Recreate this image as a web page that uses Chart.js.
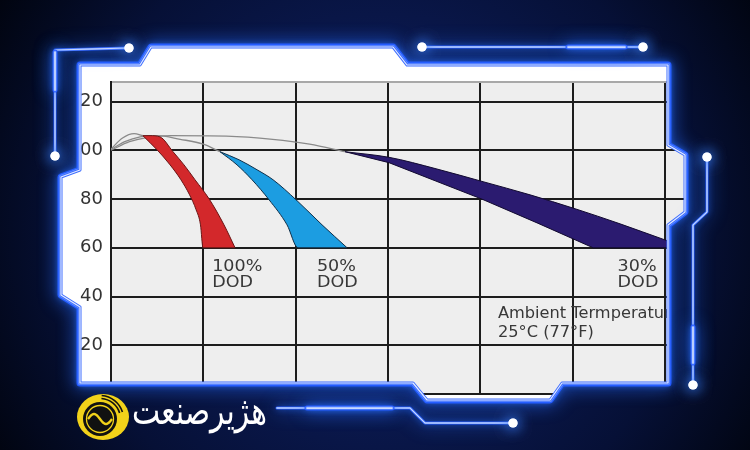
<!DOCTYPE html>
<html><head><meta charset="utf-8">
<script src="https://cdn.jsdelivr.net/npm/chart.js@4.4.1/dist/chart.umd.min.js"></script>
<style>html,body{margin:0;padding:0;background:#02050f;}canvas{display:block}</style>
</head><body>
<canvas id="c" width="750" height="450"></canvas>
<script>
// ---- data (cycles, capacity %) ----
const yTickValues = [0, 20, 40, 60, 80, 100, 120];
const cycleTicks = [0, 200, 400, 600, 800, 1000, 1200];
const dod100Lower = [[69,106],[99.6,100.2],[128,94],[151.4,87.9],[170.2,81.7],[184.3,75.6],[193.8,69.4],[199.3,60],[268.6,60]];
const dod100Upper = [[69,106],[84.5,106],[106,105.5],[134.3,99.4],[158.1,94],[181.9,87.9],[212.3,80.1],[244.7,69.4],[268.6,60]];
const dod50Lower  = [[236,99.4],[272.9,94],[305.4,87.9],[342.2,79.7],[381.2,69.4],[405,60],[511.2,60]];
const dod50Upper  = [[236,99.4],[277.2,96.1],[316.2,92],[350.9,87.9],[400.7,79.7],[457,69.4],[511.2,60]];
const dod30Lower  = [[506.8,99.4],[602.1,94.9],[701.7,87.5],[801.4,80.1],[922.7,70.2],[1044,60],[1243,60]];
const dod30Upper  = [[506.8,99.4],[602.1,97.1],[703.9,92.4],[805.7,87.1],[907.5,81.7],[1005,76],[1102.5,69.8],[1199.9,63.2],[1243,60.4]];
const greyTo100 = [[0,100.5],[25,105],[50,106.8],[69,106]];
const greyTo50  = [[0,100.3],[30,103.5],[63,105.5],[100,106],[150,104.5],[200,102.5],[236,99.4]];
const greyTo30  = [[0,100],[40,103.5],[80,105.3],[130,106],[250,105.8],[350,104.5],[430,102.5],[506.8,99.4]];
const bandNames = ['100%', '50%', '30%'];
const bandSuffix = 'DOD';
const noteLines = ['Ambient Termperature', '25°C (77°F)'];
const brandText = 'هژیرصنعت';

const pts = a => a.map(p => ({x: p[0], y: p[1]}));

// decoration geometry
const frame = [[80,65],[140,65],[151,47],[393,47],[407,65],[668,65],[668,145],[685,155],[685,212],[668,225],[668,383],[562,383],[550,400],[427,400],[413,383],[80,383],[80,307],[61,295],[61,177],[80,170]];
const circuits = [
  {p:[[129,48],[55,50],[55,156]], dots:[[129,48],[55,156]], bright:[[55,52],[55,90]]},
  {p:[[422,47],[643,47]], dots:[[422,47],[643,47]], bright:[[568,47],[625,47]]},
  {p:[[707,157],[707,212],[693,225],[693,385]], dots:[[707,157],[693,385]], bright:[[693,327],[693,363]]},
  {p:[[277,408],[410,408],[425,423],[513,423]], dots:[[513,423]], bright:[[307,408],[392,408]]}
];

function pathPoly(ctx, p, close){
  p.forEach((q,i)=> i ? ctx.lineTo(q[0],q[1]) : ctx.moveTo(q[0],q[1]));
  if (close) ctx.closePath();
}
function neon(ctx, p, close, w){
  ctx.save();
  ctx.lineJoin='round'; ctx.lineCap='round';
  ctx.beginPath(); pathPoly(ctx, p, close);
  ctx.shadowColor='rgba(40,110,255,1)'; ctx.shadowBlur=18;
  ctx.strokeStyle='#2455ff'; ctx.lineWidth=w||4; ctx.stroke();
  ctx.shadowBlur=6; ctx.strokeStyle='#6f98ff'; ctx.lineWidth=(w||4)*0.6; ctx.stroke();
  ctx.shadowBlur=0; ctx.strokeStyle='#e8efff'; ctx.lineWidth=(w||4)*0.25; ctx.stroke();
  ctx.restore();
}
function dot(ctx, x, y){
  ctx.save();
  ctx.shadowColor='rgba(60,130,255,1)'; ctx.shadowBlur=14;
  ctx.fillStyle='#ffffff';
  ctx.beginPath(); ctx.arc(x,y,4.6,0,Math.PI*2); ctx.fill();
  ctx.fill();
  ctx.restore();
}
function logo(ctx){
  ctx.save();
  ctx.fillStyle='#f2d21a';
  ctx.beginPath(); ctx.ellipse(103,417,26,23,0,0,Math.PI*2); ctx.fill();
  ctx.fillStyle='#111';
  ctx.beginPath(); ctx.arc(100,419,17,0,Math.PI*2); ctx.fill();
  ctx.strokeStyle='#111'; ctx.lineWidth=1.6;
  [20.5,23.5].forEach(r=>{ ctx.beginPath(); ctx.arc(100,419,r,-1.5,-0.3); ctx.stroke(); });
  ctx.strokeStyle='#f2d21a'; ctx.lineWidth=1.3;
  ctx.beginPath(); ctx.arc(100,419,13.5,0,Math.PI*2); ctx.stroke();
  ctx.lineWidth=2.4;
  ctx.beginPath();
  for (let k=0;k<=24;k++){ const x=88+k; const y=419-5*Math.sin(k/24*Math.PI*2); k?ctx.lineTo(x,y):ctx.moveTo(x,y); }
  ctx.stroke();
  ctx.restore();
}

const decor = {
  id:'decor',
  beforeDraw(chart){
    const ctx = chart.ctx, a = chart.chartArea;
    ctx.save();
    ctx.fillStyle='#ffffff'; ctx.fillRect(0,0,chart.width,chart.height);
    ctx.fillStyle='#eeeeee'; ctx.fillRect(a.left,a.top,a.right-a.left,a.bottom-a.top);
    ctx.restore();
  },
  afterDatasetsDraw(chart){
    const ctx = chart.ctx, xs = chart.scales.x, ys = chart.scales.y;
    ctx.save();
    ctx.fillStyle='#383838';
    ctx.textBaseline='alphabetic';
    const labelAt = [219, 446, 1097];
    ctx.font='15px "DejaVu Sans"';
    bandNames.forEach((n,i)=>{
      const x = xs.getPixelForValue(labelAt[i]);
      ctx.save(); ctx.translate(x, ys.getPixelForValue(50.5)); ctx.scale(1.17,1);
      ctx.fillText(n,0,0); ctx.fillText(bandSuffix,0,16.5); ctx.restore();
    });
    const nx = xs.getPixelForValue(838);
    ctx.save(); ctx.translate(nx, ys.getPixelForValue(31.3)); ctx.scale(1.08,1);
    ctx.fillText(noteLines[0],0,0); ctx.fillText(noteLines[1],0,19); ctx.restore();
    ctx.restore();
  },
  afterDraw(chart){
    const ctx = chart.ctx, W = chart.width, H = chart.height;
    ctx.save();
    const g = ctx.createRadialGradient(380,230,120,380,230,470);
    g.addColorStop(0,'#0c1c58'); g.addColorStop(0.55,'#061036'); g.addColorStop(1,'#000208');
    ctx.fillStyle=g;
    ctx.beginPath(); ctx.rect(0,0,W,H); pathPoly(ctx, frame, true);
    ctx.fill('evenodd');
    ctx.save();
    ctx.beginPath(); ctx.rect(0,0,W,H); pathPoly(ctx, frame, true); ctx.clip('evenodd');
    neon(ctx, frame, true, 7);
    ctx.restore();
    ctx.save();
    ctx.strokeStyle='#3c6cff'; ctx.lineWidth=3; ctx.lineJoin='round';
    ctx.beginPath(); pathPoly(ctx, frame, true); ctx.stroke();
    ctx.strokeStyle='#e4ecff'; ctx.lineWidth=1.2;
    ctx.beginPath(); pathPoly(ctx, frame, true); ctx.stroke();
    ctx.restore();
    circuits.forEach(c=>{
      neon(ctx, c.p, false, 3);
      if (c.bright) neon(ctx, c.bright, false, 5);
      c.dots.forEach(d=>dot(ctx,d[0],d[1]));
    });
    logo(ctx);
    ctx.save();
    let fs = 30;
    ctx.font = fs+'px "DejaVu Sans"';
    const w = ctx.measureText(brandText).width;
    fs = fs*135/w;
    ctx.font = fs+'px "DejaVu Sans"';
    ctx.fillStyle='#ffffff';
    ctx.direction='rtl'; ctx.textAlign='right'; ctx.textBaseline='alphabetic';
    ctx.translate(267, 424); ctx.scale(1, 1.3);
    ctx.fillText(brandText, 0, 0);
    ctx.restore();
    ctx.restore();
  }
};

const lineDs = (data, extra) => Object.assign({
  data: pts(data), borderColor:'#2a2a2a', borderWidth:1, pointRadius:0, pointHitRadius:0,
  cubicInterpolationMode:'monotone', fill:false, backgroundColor:'transparent'
}, extra);

new Chart(document.getElementById('c'), {
  type:'line',
  data:{ datasets:[
    lineDs(dod100Lower, {borderColor:'#6a1515'}),
    lineDs(dod100Upper, {borderColor:'#6a1515', fill:'-1', backgroundColor:'#d3282b'}),
    lineDs(dod50Lower, {borderColor:'#10304a'}),
    lineDs(dod50Upper, {borderColor:'#10304a', fill:'-1', backgroundColor:'#1c9de1'}),
    lineDs(dod30Lower, {borderColor:'#120a30', cubicInterpolationMode:'default', tension:0}),
    lineDs(dod30Upper, {borderColor:'#120a30', fill:'-1', backgroundColor:'#2b1b70'}),
    lineDs(greyTo100, {borderColor:'#8a8a8a', borderWidth:1.3}),
    lineDs(greyTo50, {borderColor:'#8a8a8a', borderWidth:1.3}),
    lineDs(greyTo30, {borderColor:'#8a8a8a', borderWidth:1.3})
  ]},
  options:{
    responsive:false, animation:false, devicePixelRatio:1, events:[],
    layout:{padding:{top:82,right:65,bottom:0,left:0}},
    plugins:{legend:{display:false}, tooltip:{enabled:false}},
    scales:{
      x:{type:'linear', min:0, max:1243,
        afterBuildTicks: s => { s.ticks = cycleTicks.map(v=>({value:v})); },
        afterFit: s => { s.height = 56; },
        ticks:{display:false},
        grid:{color:'#1c1c1c', lineWidth:2, drawTicks:false},
        border:{display:true, color:'#1c1c1c', width:2}},
      y:{type:'linear', min:0, max:128,
        afterBuildTicks: s => { s.ticks = yTickValues.concat([128]).map(v=>({value:v})); },
        afterFit: s => { s.width = 111; },
        ticks:{padding:8, color:'#333', font:{family:'DejaVu Sans', size:18},
          callback: v => yTickValues.includes(v) ? String(v) : ''},
        grid:{drawTicks:false, lineWidth:2,
          color: c => (c.tick && c.tick.value >= 128) ? '#a8a8a8' : '#1c1c1c'},
        border:{display:true, color:'#1c1c1c', width:2}}
    }
  },
  plugins:[decor]
});
</script>
</body></html>
